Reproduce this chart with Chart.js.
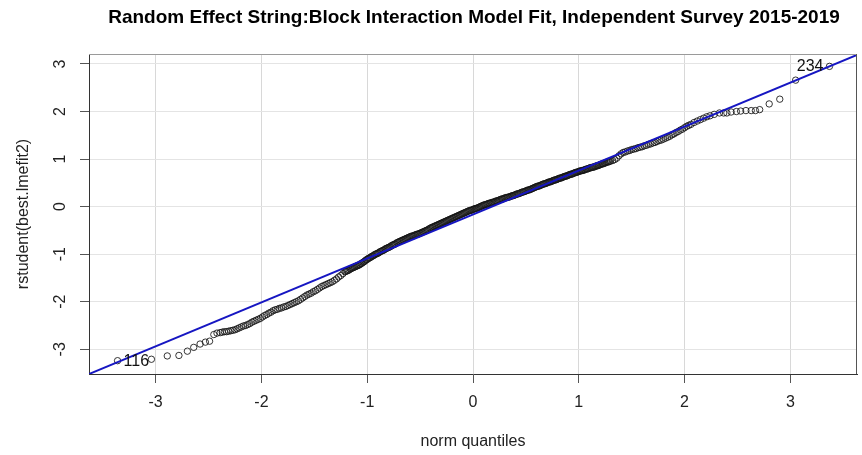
<!DOCTYPE html>
<html><head><meta charset="utf-8">
<script src="https://cdn.jsdelivr.net/npm/chart.js@4.4.0/dist/chart.umd.min.js"></script>
<style>html,body{margin:0;padding:0;background:#fff;}#wrap{width:862px;height:455px;}</style>
</head><body><div id="wrap"><canvas id="c" width="862" height="455"></canvas></div>
<script>
const chartTitle = "Random Effect String:Block Interaction Model Fit, Independent Survey 2015-2019";
const xAxisTitle = "norm quantiles";
const yAxisTitle = "rstudent(best.lmefit2)";
const xTicks = [-3, -2, -1, 0, 1, 2, 3];
const yTicks = [-3, -2, -1, 0, 1, 2, 3];
const xRange = [-3.63, 3.63];
const yRange = [-3.52, 3.21];
const refLineX = [-3.63, 3.63];
const refLineY = [-3.52, 3.19];
const idLabels = ["116", "234"];

const normQuantiles = [
-3.36,-3.04,-2.89,-2.78,-2.70,-2.64,-2.58,-2.53,-2.49,-2.45,-2.42,-2.39,
-2.37,-2.35,-2.33,-2.31,-2.29,-2.27,-2.25,-2.23,-2.21,-2.19,-2.17,-2.15,-2.13,-2.11,-2.09,-2.07,-2.05,-2.03,-2.01,
-1.99,-1.97,-1.95,-1.93,-1.91,-1.89,-1.87,-1.85,-1.83,-1.81,
-1.79,-1.77,-1.75,-1.73,-1.71,-1.69,-1.67,-1.65,-1.63,-1.61,
-1.59,-1.57,-1.55,-1.53,-1.51,-1.49,-1.47,-1.45,-1.43,-1.41,
-1.39,-1.37,-1.35,-1.33,-1.31,-1.29,-1.27,-1.25,-1.23,-1.21,
-1.20,-1.19,-1.18,-1.17,-1.16,-1.15,-1.14,-1.13,-1.12,-1.11,
-1.10,-1.09,-1.08,-1.07,-1.06,-1.05,-1.04,-1.03,-1.02,-1.01,
-1.00,-0.99,-0.98,-0.97,-0.96,-0.95,-0.94,-0.93,-0.92,-0.91,
-0.90,-0.89,-0.88,-0.87,-0.86,-0.85,-0.84,-0.83,-0.82,-0.81,
-0.80,-0.79,-0.78,-0.77,-0.76,-0.75,-0.74,-0.73,-0.72,-0.71,
-0.70,-0.69,-0.68,-0.67,-0.66,-0.65,-0.64,-0.63,-0.62,-0.61,
-0.60,-0.59,-0.58,-0.57,-0.56,-0.55,-0.54,-0.53,-0.52,-0.51,
-0.50,-0.49,-0.48,-0.47,-0.46,-0.45,-0.44,-0.43,-0.42,-0.41,
-0.40,-0.39,-0.38,-0.37,-0.36,-0.35,-0.34,-0.33,-0.32,-0.31,
-0.30,-0.29,-0.28,-0.27,-0.26,-0.25,-0.24,-0.23,-0.22,-0.21,
-0.20,-0.19,-0.18,-0.17,-0.16,-0.15,-0.14,-0.13,-0.12,-0.11,
-0.10,-0.09,-0.08,-0.07,-0.06,-0.05,-0.04,-0.03,-0.02,-0.01,
0.00,0.01,0.02,0.03,0.04,0.05,0.06,0.07,0.08,0.09,
0.10,0.11,0.12,0.13,0.14,0.15,0.16,0.17,0.18,0.19,
0.20,0.21,0.22,0.23,0.24,0.25,0.26,0.27,0.28,0.29,
0.30,0.31,0.32,0.33,0.34,0.35,0.36,0.37,0.38,0.39,
0.40,0.41,0.42,0.43,0.44,0.45,0.46,0.47,0.48,0.49,
0.50,0.51,0.52,0.53,0.54,0.55,0.56,0.57,0.58,0.59,
0.60,0.61,0.62,0.63,0.64,0.65,0.66,0.67,0.68,0.69,
0.70,0.71,0.72,0.73,0.74,0.75,0.76,0.77,0.78,0.79,
0.80,0.81,0.82,0.83,0.84,0.85,0.86,0.87,0.88,0.89,
0.90,0.91,0.92,0.93,0.94,0.95,0.96,0.97,0.98,0.99,
1.00,1.01,1.02,1.03,1.04,1.05,1.06,1.07,1.08,1.09,
1.10,1.11,1.12,1.13,1.14,1.15,1.16,1.17,1.18,1.19,
1.20,1.21,1.22,1.23,1.24,1.25,1.26,1.27,1.28,1.29,
1.30,
1.32,1.34,1.36,1.38,1.40,1.42,1.44,1.46,1.48,1.50,
1.52,1.54,1.56,1.58,1.60,1.62,1.64,1.66,1.68,1.70,
1.72,1.74,1.76,1.78,1.80,1.82,1.84,1.86,1.88,1.90,
1.92,1.94,1.96,1.98,2.00,2.02,2.04,2.06,
2.09,2.12,2.15,2.18,2.21,2.24,2.28,2.33,
2.37,2.40,2.44,2.49,2.53,2.58,2.63,2.67,2.71,2.80,2.90,3.05,3.37
];

const rstudentValues = [
-3.24,-3.21,-3.14,-3.13,-3.04,-2.96,-2.89,-2.85,-2.83,-2.69,-2.66,-2.65,
-2.64,-2.63,-2.63,-2.62,-2.61,-2.60,-2.59,-2.57,-2.55,-2.53,-2.51,-2.50,-2.48,-2.46,-2.43,-2.41,-2.39,-2.37,-2.35,
-2.32,-2.29,-2.27,-2.24,-2.22,-2.19,-2.17,-2.16,-2.14,-2.13,
-2.11,-2.10,-2.08,-2.06,-2.04,-2.02,-2.00,-1.98,-1.95,-1.92,
-1.89,-1.86,-1.84,-1.82,-1.79,-1.77,-1.74,-1.71,-1.68,-1.66,
-1.64,-1.62,-1.60,-1.58,-1.55,-1.52,-1.48,-1.45,-1.41,-1.37,
-1.36,-1.35,-1.34,-1.33,-1.31,-1.30,-1.29,-1.28,-1.27,-1.26,
-1.25,-1.24,-1.23,-1.22,-1.20,-1.19,-1.17,-1.16,-1.14,-1.12,
-1.11,-1.09,-1.08,-1.07,-1.05,-1.04,-1.03,-1.01,-1.00,-0.99,
-0.98,-0.97,-0.95,-0.94,-0.93,-0.92,-0.91,-0.89,-0.88,-0.87,
-0.86,-0.85,-0.84,-0.82,-0.81,-0.80,-0.79,-0.78,-0.76,-0.75,
-0.74,-0.73,-0.72,-0.71,-0.70,-0.69,-0.68,-0.67,-0.66,-0.65,
-0.64,-0.63,-0.62,-0.62,-0.61,-0.60,-0.59,-0.58,-0.58,-0.57,
-0.56,-0.55,-0.54,-0.53,-0.52,-0.51,-0.50,-0.49,-0.48,-0.46,
-0.45,-0.44,-0.43,-0.42,-0.41,-0.40,-0.39,-0.38,-0.37,-0.36,
-0.35,-0.34,-0.33,-0.32,-0.31,-0.30,-0.29,-0.28,-0.27,-0.26,
-0.25,-0.24,-0.23,-0.22,-0.21,-0.20,-0.19,-0.18,-0.17,-0.16,
-0.15,-0.14,-0.13,-0.12,-0.11,-0.10,-0.09,-0.08,-0.08,-0.07,
-0.06,-0.05,-0.04,-0.04,-0.03,-0.02,-0.01,0.00,0.01,0.02,
0.03,0.04,0.04,0.05,0.06,0.07,0.07,0.08,0.09,0.09,
0.10,0.11,0.12,0.12,0.13,0.14,0.15,0.16,0.16,0.17,
0.18,0.19,0.19,0.20,0.20,0.21,0.22,0.23,0.23,0.24,
0.25,0.26,0.27,0.27,0.28,0.29,0.30,0.31,0.31,0.32,
0.33,0.34,0.35,0.35,0.36,0.37,0.38,0.39,0.40,0.41,
0.42,0.43,0.43,0.44,0.45,0.46,0.47,0.48,0.48,0.49,
0.50,0.51,0.52,0.52,0.53,0.54,0.55,0.56,0.56,0.57,
0.58,0.59,0.60,0.60,0.61,0.62,0.63,0.64,0.64,0.65,
0.66,0.67,0.68,0.68,0.69,0.70,0.71,0.72,0.72,0.73,
0.74,0.75,0.75,0.76,0.76,0.77,0.78,0.79,0.79,0.80,
0.81,0.82,0.82,0.83,0.83,0.84,0.85,0.86,0.86,0.87,
0.88,0.89,0.90,0.90,0.91,0.92,0.93,0.94,0.94,0.95,
0.96,
0.97,0.99,1.02,1.07,1.11,1.14,1.15,1.17,1.18,1.20,
1.21,1.22,1.24,1.25,1.26,1.28,1.29,1.31,1.32,1.34,
1.35,1.37,1.39,1.40,1.42,1.44,1.46,1.48,1.51,1.53,
1.56,1.58,1.61,1.63,1.66,1.69,1.71,1.73,
1.77,1.80,1.83,1.86,1.89,1.91,1.94,1.97,
1.97,1.97,1.99,2.00,2.01,2.02,2.02,2.02,2.04,2.16,2.26,2.66,2.95
];

const FONT = '"Liberation Sans", Arial, Helvetica, sans-serif';

const decor = {
  id: 'decor',
  afterDraw(chart) {
    const {ctx, chartArea: a, scales} = chart;
    const ys = scales.y;
    ctx.save();
    // remaining box sides
    ctx.lineWidth = 1;
    ctx.strokeStyle = '#9a9a9a';
    ctx.beginPath(); ctx.moveTo(a.left, a.top + 0.5); ctx.lineTo(a.right, a.top + 0.5); ctx.stroke();
    ctx.strokeStyle = '#555';
    ctx.beginPath(); ctx.moveTo(a.right - 0.5, a.top); ctx.lineTo(a.right - 0.5, a.bottom); ctx.stroke();
    // rotated y tick labels (R style)
    ctx.font = '16px ' + FONT;
    ctx.fillStyle = '#222';
    ctx.textAlign = 'center';
    ctx.textBaseline = 'middle';
    yTicks.forEach(v => {
      const py = ys.getPixelForValue(v);
      ctx.save();
      ctx.translate(a.left - 28, py);
      ctx.rotate(-Math.PI / 2);
      ctx.fillText(String(v), 0, 0);
      ctx.restore();
    });
    // main title centred over the plot region
    ctx.font = 'bold 19px ' + FONT;
    ctx.fillStyle = '#000';
    ctx.fillText(chartTitle, (a.left + a.right) / 2 + 1, 18);
    // id labels of the extreme points
    const meta = chart.getDatasetMeta(1);
    const first = meta.data[0], last = meta.data[meta.data.length - 1];
    ctx.font = '16px ' + FONT;
    ctx.fillStyle = '#111';
    ctx.textAlign = 'left';
    ctx.fillText(idLabels[0], first.x + 6, first.y + 1);
    ctx.textAlign = 'right';
    ctx.fillText(idLabels[1], last.x - 6, last.y);
    ctx.restore();
  }
};

new Chart(document.getElementById('c'), {
  type: 'scatter',
  data: {
    datasets: [
      {
        type: 'line',
        data: refLineX.map((x, i) => ({x: x, y: refLineY[i]})),
        borderColor: '#1616c2',
        borderWidth: 2,
        pointRadius: 0,
        fill: false,
        tension: 0
      },
      {
        data: normQuantiles.map((x, i) => ({x: x, y: rstudentValues[i]})),
        pointStyle: 'circle',
        pointRadius: 3.2,
        borderWidth: 1,
        borderColor: 'rgba(20,20,20,0.85)',
        backgroundColor: 'rgba(0,0,0,0)'
      }
    ]
  },
  options: {
    responsive: false,
    animation: false,
    devicePixelRatio: 1,
    layout: {padding: {left: 0, right: 1, top: 54, bottom: 0}},
    plugins: {legend: {display: false}, tooltip: {enabled: false}, title: {display: false}},
    scales: {
      x: {
        type: 'linear',
        min: xRange[0], max: xRange[1],
        afterBuildTicks: s => { s.ticks = xTicks.map(v => ({value: v})); },
        afterFit: s => { s.height = 81; },
        ticks: {font: {family: FONT, size: 16}, color: '#222', padding: 10, callback: v => String(v)},
        grid: {color: '#d8d8d8', lineWidth: 1, drawTicks: true, tickLength: 9, tickColor: '#555'},
        border: {display: true, color: '#333', width: 1},
        title: {display: true, text: xAxisTitle, font: {family: FONT, size: 16}, color: '#222', padding: {top: 0, bottom: 4}}
      },
      y: {
        type: 'linear',
        min: yRange[0], max: yRange[1],
        afterBuildTicks: s => { s.ticks = yTicks.map(v => ({value: v})); },
        afterFit: s => { s.width = 89; },
        ticks: {display: false},
        grid: {color: '#e4e4e4', lineWidth: 1, drawTicks: true, tickLength: 9, tickColor: '#555'},
        border: {display: true, color: '#333', width: 1},
        title: {display: true, text: yAxisTitle, font: {family: FONT, size: 16}, color: '#222', padding: {top: 14, bottom: 0}}
      }
    }
  },
  plugins: [decor]
});
</script>
</body></html>
